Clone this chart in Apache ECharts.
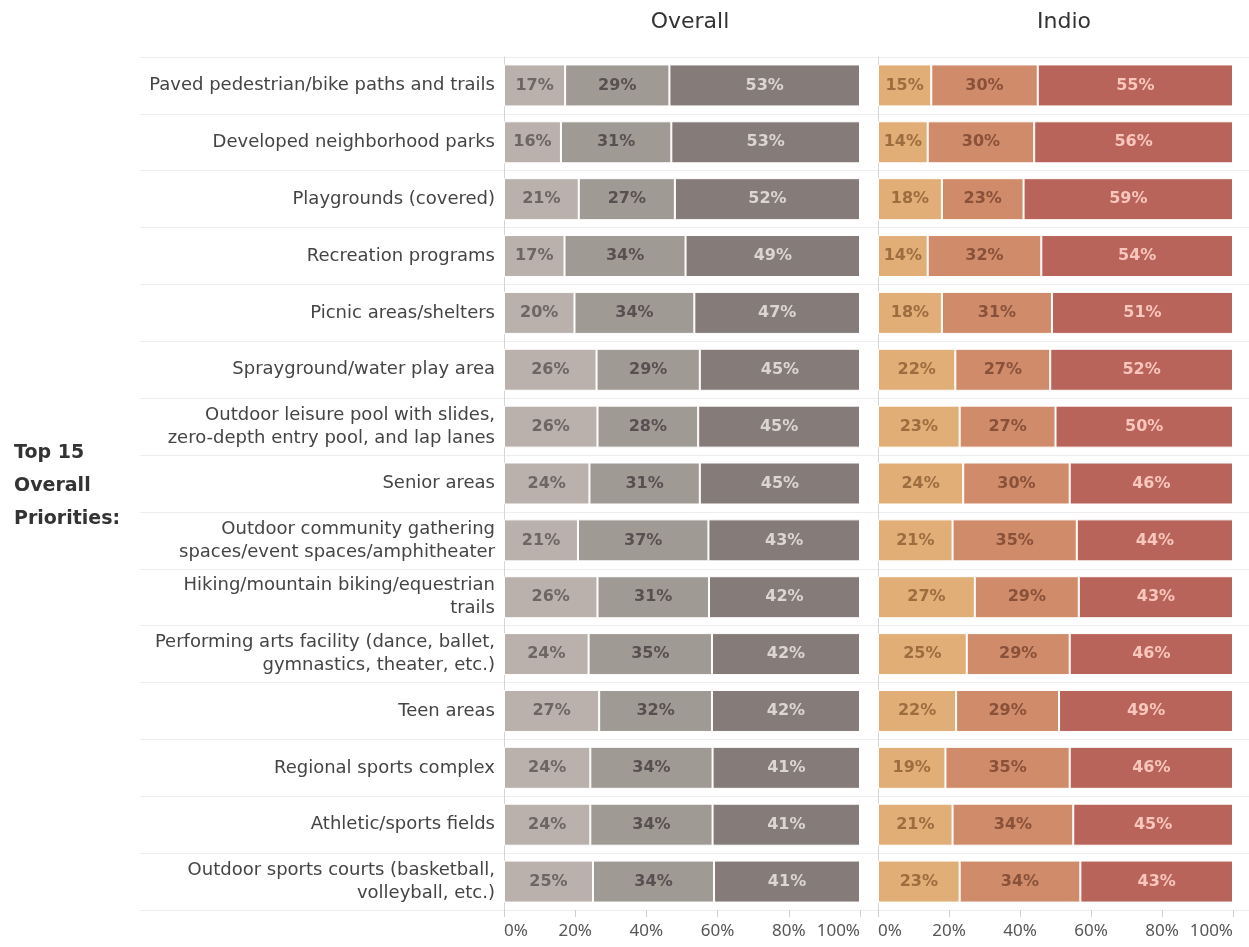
<!DOCTYPE html>
<html><head><meta charset="utf-8">
<script src="https://cdn.jsdelivr.net/npm/echarts@6/dist/echarts.min.js"></script>
<style>html,body{margin:0;padding:0;background:#fff}#c{width:1249px;height:947px}</style>
</head><body><div id="c"></div>
<script>
const categories = [
  "Paved pedestrian/bike paths and trails",
  "Developed neighborhood parks",
  "Playgrounds (covered)",
  "Recreation programs",
  "Picnic areas/shelters",
  "Sprayground/water play area",
  "Outdoor leisure pool with slides,\nzero-depth entry pool, and lap lanes",
  "Senior areas",
  "Outdoor community gathering\nspaces/event spaces/amphitheater",
  "Hiking/mountain biking/equestrian\ntrails",
  "Performing arts facility (dance, ballet,\ngymnastics, theater, etc.)",
  "Teen areas",
  "Regional sports complex",
  "Athletic/sports fields",
  "Outdoor sports courts (basketball,\nvolleyball, etc.)"
];
const overallLow  = [17,16,21,17,20,26,26,24,21,26,24,27,24,24,25];
const overallMid  = [29,31,27,34,34,29,28,31,37,31,35,32,34,34,34];
const overallHigh = [53,53,52,49,47,45,45,45,43,42,42,42,41,41,41];
const indioLow    = [15,14,18,14,18,22,23,24,21,27,25,22,19,21,23];
const indioMid    = [30,30,23,32,31,27,27,30,35,29,29,29,35,34,34];
const indioHigh   = [55,56,59,54,51,52,50,46,44,43,46,49,46,45,43];
const xTicks = [0,20,40,60,80,100];

const FONT = '"DejaVu Sans", "Noto Sans", sans-serif';
const FONT2 = '"Noto Sans", "DejaVu Sans", sans-serif';

function norm(arr, a, b, c) {
  return arr.map((v, i) => ({ value: v / (a[i] + b[i] + c[i]) * 100, raw: v }));
}

const panels = [
  { left: 504, width: 356, low: overallLow, mid: overallMid, high: overallHigh,
    colors: ['#bab1ad', '#a09a95', '#857b79'], text: ['#6d6662', '#575050', '#dcd6d2'] },
  { left: 878, width: 355, low: indioLow, mid: indioMid, high: indioHigh,
    colors: ['#e2ae78', '#d08c6a', '#b9645a'], text: ['#9c6d3f', '#89503a', '#f8c6bd'] }
];

const grids = [{ left: 140, width: 1109, top: 57, height: 853, containLabel: false, outerBoundsMode: 'none' }];
const xAxes = [{ gridIndex: 0, type: 'value', min: 0, max: 1, show: false }];
const yAxes = [{ gridIndex: 0, type: 'category', data: categories, inverse: true,
  axisLine: { show: false }, axisTick: { show: false }, axisLabel: { show: false },
  splitLine: { show: true, lineStyle: { color: '#eeeeee', width: 1 } } }];
const series = [];

panels.forEach((p, k) => {
  const gi = k + 1;
  grids.push({ left: p.left, width: p.width, top: 57, height: 853, containLabel: false, outerBoundsMode: 'none' });
  xAxes.push({ gridIndex: gi, type: 'value', min: 0, max: 100, interval: 20,
    axisLine: { show: false },
    axisTick: { show: true, length: 7, lineStyle: { color: '#d0d0d0' } },
    splitLine: { show: false },
    axisLabel: { formatter: v => v + '%', color: '#555', fontSize: 17, fontFamily: FONT2, margin: 13,
      hideOverlap: false, showMinLabel: true, showMaxLabel: true,
      alignMinLabel: 'left', alignMaxLabel: 'right' } });
  yAxes.push({ gridIndex: gi, type: 'category', data: categories, inverse: true,
    axisLine: { show: true, onZero: false, lineStyle: { color: '#d6d6d6' } },
    axisTick: { show: false },
    axisLabel: { show: k === 0, color: '#444', fontSize: 18, fontFamily: FONT, lineHeight: 23, margin: 9, align: 'right' } });
  const parts = [p.low, p.mid, p.high];
  parts.forEach((arr, j) => {
    series.push({
      type: 'bar', stack: 's' + k, xAxisIndex: gi, yAxisIndex: gi, barWidth: 42,
      data: norm(arr, p.low, p.mid, p.high),
      itemStyle: { color: p.colors[j], borderColor: '#fff', borderWidth: 1 },
      label: { show: true, position: 'inside', formatter: d => d.data.raw + '%',
        color: p.text[j], fontSize: 16, fontWeight: 'bold', fontFamily: FONT },
      emphasis: { disabled: true }, animation: false
    });
  });
});

const chart = echarts.init(document.getElementById('c'), null, { renderer: 'canvas' });
chart.setOption({
  animation: false,
  backgroundColor: '#fff',
  title: [
    { text: 'Overall', left: 685, top: 6, textAlign: 'center',
      textStyle: { fontSize: 22, fontWeight: 'normal', color: '#333', fontFamily: FONT } },
    { text: 'Indio', left: 1059, top: 6, textAlign: 'center',
      textStyle: { fontSize: 22, fontWeight: 'normal', color: '#333', fontFamily: FONT } }
  ],
  graphic: [{ type: 'text', left: 14, top: 437,
    style: { text: 'Top 15\nOverall\nPriorities:', font: 'bold 19px ' + FONT, fill: '#333', lineHeight: 33 } }],
  grid: grids, xAxis: xAxes, yAxis: yAxes, series: series
});
</script></body></html>
